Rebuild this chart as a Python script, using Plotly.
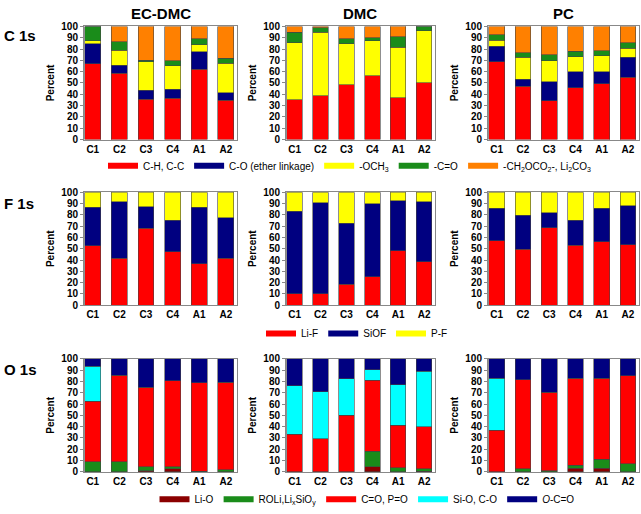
import plotly.graph_objects as go

categories = ["C1", "C2", "C3", "C4", "A1", "A2"]
electrolytes = ["EC-DMC", "DMC", "PC"]
row_labels = ["C 1s", "F 1s", "O 1s"]

# ---- C 1s ----
c_names = ["C-H, C-C", "C-O (ether linkage)", "-OCH<sub>3</sub>", "-C=O",
           "-CH<sub>2</sub>OCO<sub>2</sub>-, Li<sub>2</sub>CO<sub>3</sub>"]
c_colors = ["#FF0000", "#000080", "#FFFF00", "#1A8C1A", "#FF8000"]

ecdmc_c_CH = [67.0, 58.6, 35.7, 36.3, 62.3, 34.9]
ecdmc_c_CO = [17.7, 7.1, 8.0, 8.3, 15.4, 6.5]
ecdmc_c_OCH3 = [2.5, 13.4, 24.9, 20.8, 6.3, 26.0]
ecdmc_c_CdO = [12.8, 7.2, 1.7, 4.3, 5.1, 4.6]
ecdmc_c_Li2CO3 = [0.0, 13.7, 29.7, 30.3, 10.9, 28.0]

dmc_c_CH = [35.1, 38.6, 48.6, 56.6, 37.0, 50.3]
dmc_c_CO = [0.0, 0.0, 0.0, 0.0, 0.0, 0.0]
dmc_c_OCH3 = [50.6, 56.4, 36.3, 30.8, 44.7, 46.0]
dmc_c_CdO = [9.2, 3.9, 4.1, 2.6, 9.3, 3.7]
dmc_c_Li2CO3 = [5.1, 1.1, 11.0, 10.0, 9.0, 0.0]

pc_c_CH = [68.6, 47.1, 34.3, 45.7, 49.4, 54.9]
pc_c_CO = [14.0, 6.3, 16.8, 14.3, 10.6, 17.7]
pc_c_OCH3 = [5.1, 19.5, 18.6, 13.4, 14.0, 8.0]
pc_c_CdO = [4.9, 4.0, 5.2, 4.9, 4.6, 5.1]
pc_c_Li2CO3 = [7.4, 23.1, 25.1, 21.7, 21.4, 14.3]

# ---- F 1s ----
f_names = ["Li-F", "SiOF", "P-F"]
f_colors = ["#FF0000", "#000080", "#FFFF00"]

ecdmc_f_LiF = [52.6, 41.7, 68.1, 47.4, 36.8, 41.7]
ecdmc_f_SiOF = [34.2, 49.7, 19.0, 27.6, 50.0, 35.6]
ecdmc_f_PF = [13.2, 8.6, 12.9, 25.0, 13.2, 22.7]

dmc_f_LiF = [10.0, 10.3, 18.7, 25.0, 48.0, 38.5]
dmc_f_SiOF = [73.3, 80.5, 53.7, 64.7, 44.2, 52.9]
dmc_f_PF = [16.7, 9.2, 27.6, 10.3, 7.8, 8.6]

pc_f_LiF = [56.9, 49.4, 68.7, 53.2, 56.3, 53.7]
pc_f_SiOF = [29.0, 30.2, 13.2, 22.1, 29.3, 34.3]
pc_f_PF = [14.1, 20.4, 18.1, 24.7, 14.4, 12.0]

# ---- O 1s ----
o_names = ["Li-O", "ROLi,Li<sub>x</sub>SiO<sub>y</sub>", "C=O, P=O", "Si-O, C-O", "<i>O</i>-C=O"]
o_colors = ["#8B0000", "#1A8C1A", "#FF0000", "#00FFFF", "#000080"]

ecdmc_o_LiO = [0.0, 0.0, 1.0, 2.6, 0.0, 0.0]
ecdmc_o_ROLi = [9.2, 8.9, 3.6, 2.0, 0.5, 2.0]
ecdmc_o_CO = [53.4, 76.7, 70.1, 76.1, 78.2, 77.3]
ecdmc_o_SiO = [30.8, 0.0, 0.0, 0.0, 0.0, 0.0]
ecdmc_o_OCO = [6.6, 14.4, 25.3, 19.3, 21.3, 20.7]

dmc_o_LiO = [0.0, 0.0, 0.0, 4.6, 0.0, 0.8]
dmc_o_ROLi = [0.0, 0.0, 0.0, 13.8, 3.7, 2.1]
dmc_o_CO = [33.3, 29.3, 50.0, 62.6, 37.4, 37.1]
dmc_o_SiO = [43.1, 41.4, 32.5, 9.2, 35.9, 49.0]
dmc_o_OCO = [23.6, 29.3, 17.5, 9.8, 23.0, 11.0]

pc_o_LiO = [0.0, 0.0, 0.0, 3.4, 3.4, 0.0]
pc_o_ROLi = [0.0, 2.9, 0.9, 2.3, 7.8, 7.2]
pc_o_CO = [36.8, 78.4, 69.5, 77.1, 71.6, 77.8]
pc_o_SiO = [46.0, 0.0, 0.0, 0.0, 0.0, 0.0]
pc_o_OCO = [17.2, 18.7, 29.6, 17.2, 17.2, 15.0]

rows = [
    (c_names, c_colors, [
        [ecdmc_c_CH, ecdmc_c_CO, ecdmc_c_OCH3, ecdmc_c_CdO, ecdmc_c_Li2CO3],
        [dmc_c_CH, dmc_c_CO, dmc_c_OCH3, dmc_c_CdO, dmc_c_Li2CO3],
        [pc_c_CH, pc_c_CO, pc_c_OCH3, pc_c_CdO, pc_c_Li2CO3]]),
    (f_names, f_colors, [
        [ecdmc_f_LiF, ecdmc_f_SiOF, ecdmc_f_PF],
        [dmc_f_LiF, dmc_f_SiOF, dmc_f_PF],
        [pc_f_LiF, pc_f_SiOF, pc_f_PF]]),
    (o_names, o_colors, [
        [ecdmc_o_LiO, ecdmc_o_ROLi, ecdmc_o_CO, ecdmc_o_SiO, ecdmc_o_OCO],
        [dmc_o_LiO, dmc_o_ROLi, dmc_o_CO, dmc_o_SiO, dmc_o_OCO],
        [pc_o_LiO, pc_o_ROLi, pc_o_CO, pc_o_SiO, pc_o_OCO]]),
]

W, H = 641, 514
xdoms = [[84 / W, 237 / W], [286 / W, 435 / W], [488 / W, 639 / W]]
ydoms = [[1 - 137 / H, 1 - 21 / H], [1 - 307 / H, 1 - 191 / H], [1 - 478 / H, 1 - 362 / H]]
legend_y = [1 - 164 / H, 1 - 336 / H, 1 - 506 / H]
legend_x = [350 / W, 357 / W, 367 / W]
row_label_y = [1 - 30 / H, 1 - 203 / H, 1 - 373 / H]

FONT = "Liberation Sans, Arial, sans-serif"
fig = go.Figure()
layout = dict(
    width=W, height=H, margin=dict(l=0, r=0, t=0, b=0),
    paper_bgcolor="white", plot_bgcolor="white",
    barmode="stack", bargap=0.4, font=dict(family=FONT, color="black"),
    annotations=[],
)

for r, (names, colors, panels) in enumerate(rows):
    legname = "legend" if r == 0 else f"legend{r + 1}"
    for c, series in enumerate(panels):
        k = r * 3 + c
        xa = "x" if k == 0 else f"x{k + 1}"
        ya = "y" if k == 0 else f"y{k + 1}"
        for name, col, vals in zip(names, colors, series):
            fig.add_trace(go.Bar(
                x=categories, y=vals, name=name, xaxis=xa, yaxis=ya,
                marker=dict(color=col, line=dict(color="#444444", width=0.6)),
                showlegend=False, hoverinfo="x+y+name"))
        xkey = "xaxis" if k == 0 else f"xaxis{k + 1}"
        ykey = "yaxis" if k == 0 else f"yaxis{k + 1}"
        layout[xkey] = dict(
            domain=xdoms[c], anchor=ya, type="category", range=[-0.33, 5.42],
            showline=True, linecolor="#888888", linewidth=1, mirror=True,
            ticks="", showgrid=False, zeroline=False,
            tickfont=dict(size=10, family=FONT, weight="bold"))
        layout[ykey] = dict(
            domain=ydoms[r], anchor=xa, range=[0, 100], dtick=10,
            showline=True, linecolor="#888888", linewidth=1, mirror=True,
            ticks="outside", ticklen=3, tickcolor="#888888",
            showgrid=False, zeroline=False,
            tickfont=dict(size=10, family=FONT, weight="bold"),
            title=dict(text="Percent", standoff=4,
                       font=dict(size=10, family=FONT, weight="bold")))
    # legend entries
    for name, col in zip(names, colors):
        fig.add_trace(go.Scatter(
            x=[None], y=[None], mode="lines", name=name,
            line=dict(color=col, width=6), legend=legname,
            xaxis="x" if r == 0 else f"x{r * 3 + 1}",
            yaxis="y" if r == 0 else f"y{r * 3 + 1}",
            showlegend=True, hoverinfo="skip"))
    layout[legname] = dict(
        orientation="h", x=legend_x[r], xanchor="center", y=legend_y[r], yanchor="middle",
        font=dict(size=10, family=FONT), bgcolor="rgba(0,0,0,0)",
        itemwidth=30, traceorder="normal")
    layout["annotations"].append(dict(
        text=row_labels[r], x=0.003, y=row_label_y[r], xref="paper", yref="paper",
        xanchor="left", yanchor="middle", showarrow=False,
        font=dict(size=15, family=FONT, weight="bold")))

for c, t in enumerate(electrolytes):
    layout["annotations"].append(dict(
        text=t, x=(xdoms[c][0] + xdoms[c][1]) / 2, y=1 - 8 / H, xref="paper", yref="paper",
        xanchor="center", yanchor="middle", showarrow=False,
        font=dict(size=15, family=FONT, weight="bold")))

fig.update_layout(**layout)
fig.write_html("out.html", config={"displayModeBar": False},
               post_script="document.body.style.margin='0';document.body.style.overflow='hidden';")
